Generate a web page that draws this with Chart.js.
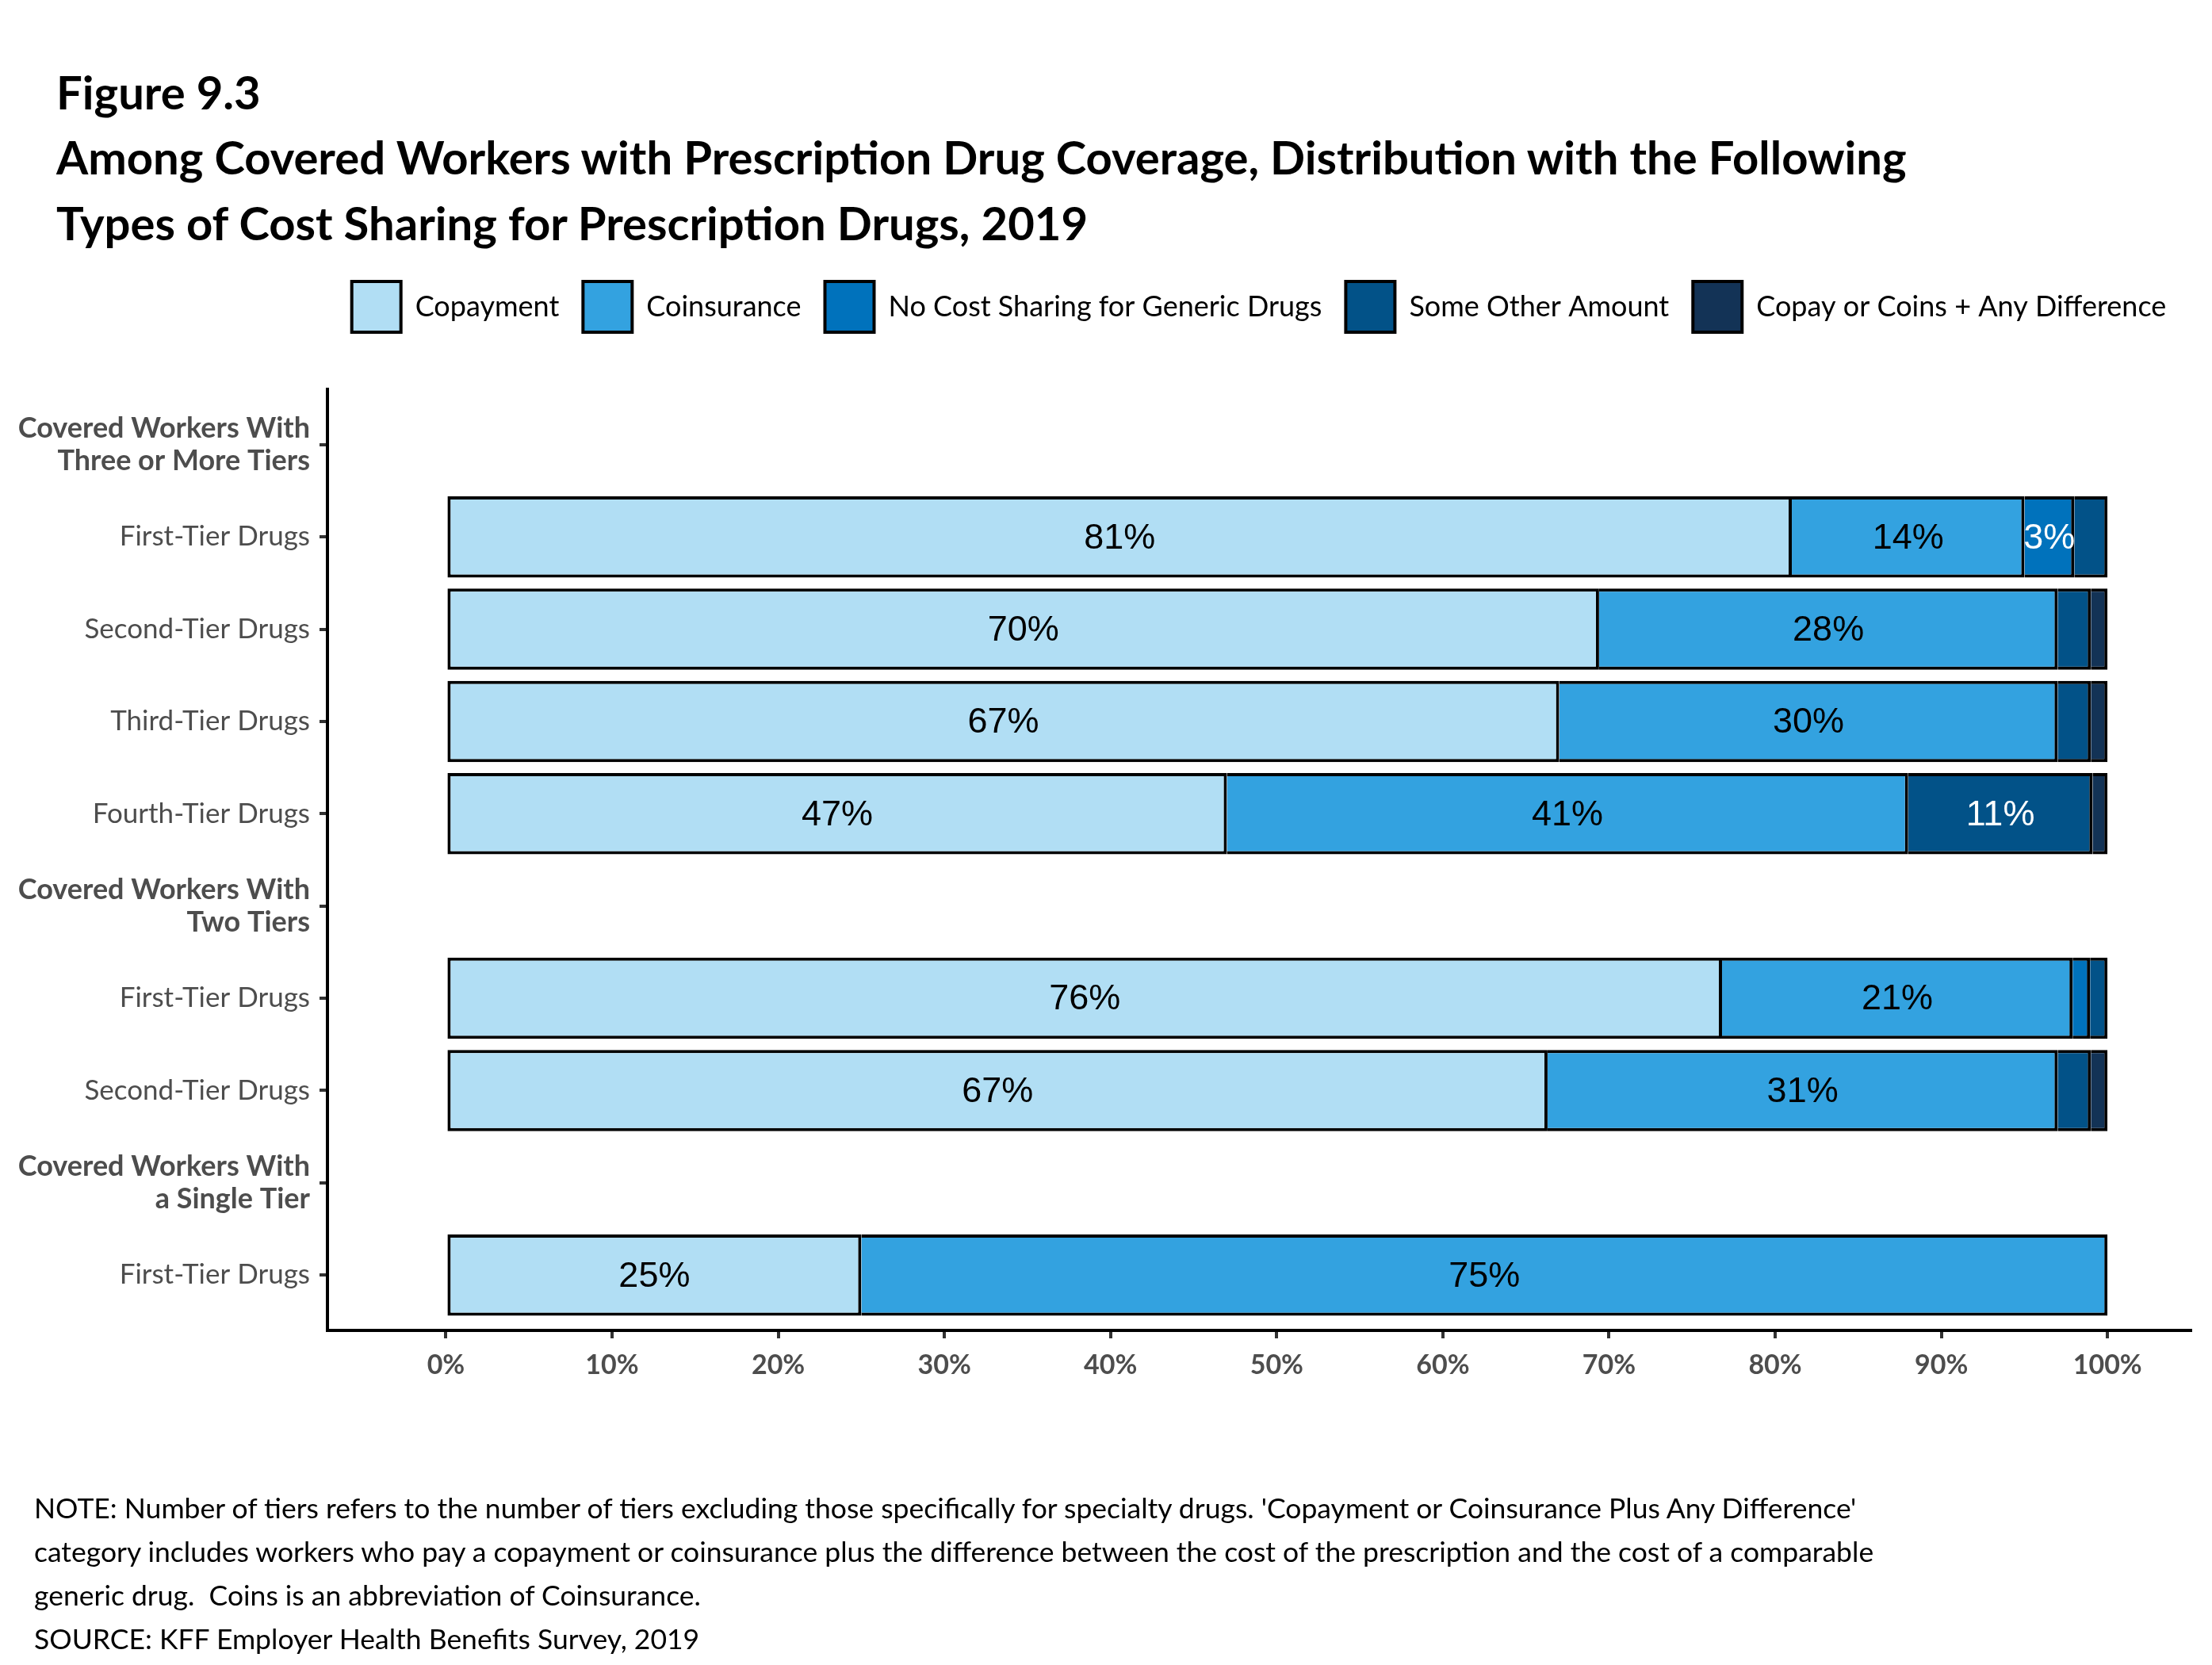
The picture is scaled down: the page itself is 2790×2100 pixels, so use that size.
<!DOCTYPE html>
<html>
<head>
<meta charset="utf-8">
<script src="https://cdn.jsdelivr.net/npm/chart.js@4.4.1/dist/chart.umd.min.js"></script>
<style>
  html, body { margin: 0; padding: 0; background: #fff; }
  body { width: 2790px; height: 2100px; position: relative; overflow: hidden; }
  #chart { position: absolute; left: 0; top: 0; }
  .title { position: absolute; left: 71px; font-family: Lato, sans-serif; font-weight: 700; font-size: 58px; line-height: 1; color: #000; white-space: nowrap; }
  .notes { position: absolute; left: 43px; top: 1874px; font-family: Lato, sans-serif; font-size: 35.5px; line-height: 55px; color: #000; white-space: pre; }
</style>
</head>
<body>
<div class="title" style="top:87px">Figure 9.3</div>
<div class="title" style="top:169px">Among Covered Workers with Prescription Drug Coverage, Distribution with the Following</div>
<div class="title" style="top:252px">Types of Cost Sharing for Prescription Drugs, 2019</div>
<canvas id="chart" width="2790" height="2100"></canvas>
<div class="notes">NOTE: Number of tiers refers to the number of tiers excluding those specifically for specialty drugs. 'Copayment or Coinsurance Plus Any Difference'
category includes workers who pay a copayment or coinsurance plus the difference between the cost of the prescription and the cost of a comparable
generic drug.  Coins is an abbreviation of Coinsurance.
SOURCE: KFF Employer Health Benefits Survey, 2019</div>
<script>
// Rows from top to bottom (headers have no bars)
const rowLabels = [
    ['Covered Workers With', 'Three or More Tiers'],
    'First-Tier Drugs',
    'Second-Tier Drugs',
    'Third-Tier Drugs',
    'Fourth-Tier Drugs',
    ['Covered Workers With', 'Two Tiers'],
    'First-Tier Drugs',
    'Second-Tier Drugs',
    ['Covered Workers With', 'a Single Tier'],
    'First-Tier Drugs'
];
const headerRows = [0, 5, 8];

const seriesNames = ['Copayment', 'Coinsurance', 'No Cost Sharing for Generic Drugs', 'Some Other Amount', 'Copay or Coins + Any Difference'];
const seriesColors = ['#b1def4', '#33a2e0', '#0072bc', '#025288', '#133356'];
const labelColors = ['#000', '#000', '#fff', '#fff', '#fff'];

// values (percent), null = no segment
const copay  = [null, 81, 69.4, 67, 47, null, 76.8, 66.3, null, 25];
const coins  = [null, 14, 27.6, 30, 41, null, 21.1, 30.7, null, 75];
const noCost = [null, 3, null, null, null, null, 1.05, null, null, null];
const other  = [null, 2, 2, 2, 11.1, null, 1.05, 2, null, null];
const diff   = [null, null, 1, 1, 0.9, null, null, 1, null, null];

// printed labels
const copayLbl  = ['', '81%', '70%', '67%', '47%', '', '76%', '67%', '', '25%'];
const coinsLbl  = ['', '14%', '28%', '30%', '41%', '', '21%', '31%', '', '75%'];
const noCostLbl = ['', '3%', '', '', '', '', '', '', '', ''];
const otherLbl  = ['', '', '', '', '11%', '', '', '', '', ''];
const diffLbl   = ['', '', '', '', '', '', '', '', '', ''];

const xTicks = [0, 10, 20, 30, 40, 50, 60, 70, 80, 90, 100];

const seriesValues = [copay, coins, noCost, other, diff];
const seriesLabels = [copayLbl, coinsLbl, noCostLbl, otherLbl, diffLbl];

const datasets = seriesValues.map((vals, k) => ({
    label: seriesNames[k],
    data: vals.map((v, i) => ({ x: v, y: i })).filter(d => d.x !== null),
    backgroundColor: seriesColors[k],
    borderColor: '#000',
    borderWidth: 4,
    borderSkipped: k === 0 ? false : 'start',
    categoryPercentage: 1,
    barPercentage: 0.88
}));

const segmentLabels = {
    id: 'segmentLabels',
    afterDatasetsDraw(chart) {
        const ctx = chart.ctx;
        ctx.save();
        ctx.font = '45px "Liberation Sans", Arial, sans-serif';
        ctx.textAlign = 'center';
        ctx.textBaseline = 'middle';
        chart.data.datasets.forEach((ds, k) => {
            const meta = chart.getDatasetMeta(k);
            meta.data.forEach((el, j) => {
                const text = seriesLabels[k][ds.data[j].y];
                if (!text) return;
                ctx.fillStyle = labelColors[k];
                ctx.fillText(text, (el.x + el.base) / 2, el.y + 2);
            });
        });
        ctx.restore();
    }
};

// put the legend over the plot area, like the original
const legendPlace = {
    id: 'legendPlace',
    afterLayout(chart) {
        const lg = chart.legend;
        const h = lg.height;
        lg.left = chart.chartArea.left;
        lg.right = chart.chartArea.right;
        lg.top = 325;
        lg.bottom = 325 + h;
    }
};

new Chart(document.getElementById('chart'), {
    type: 'bar',
    data: { labels: rowLabels, datasets: datasets },
    options: {
        indexAxis: 'y',
        responsive: false,
        animation: false,
        devicePixelRatio: 1,
        layout: { padding: { top: 387, left: 0, right: 27, bottom: 0 } },
        plugins: {
            legend: {
                position: 'top',
                labels: {
                    boxWidth: 62,
                    boxHeight: 64,
                    padding: 30,
                    color: '#000',
                    font: { family: 'Lato', size: 36 }
                }
            },
            tooltip: { enabled: false }
        },
        scales: {
            x: {
                type: 'linear',
                stacked: true,
                min: -7.13,
                max: 105,
                afterBuildTicks: s => { s.ticks = xTicks.map(v => ({ value: v })); },
                afterFit: s => { s.height = 422; },
                border: { display: true, color: '#000', width: 4 },
                grid: { drawOnChartArea: false, drawTicks: true, tickLength: 10, color: '#333', lineWidth: 4 },
                ticks: {
                    padding: 14,
                    color: '#4d4d4d',
                    font: { family: 'Lato', size: 34, weight: 'bold' },
                    callback: v => v + '%'
                }
            },
            y: {
                type: 'linear',
                stacked: true,
                reverse: true,
                offset: false,
                min: -0.6,
                max: 9.6,
                afterBuildTicks: s => { s.ticks = rowLabels.map((_, i) => ({ value: i })); },
                afterFit: s => { s.width = 413; },
                border: { display: true, color: '#000', width: 4 },
                grid: { offset: false, drawOnChartArea: false, drawTicks: true, tickLength: 10, color: '#333', lineWidth: 4 },
                ticks: {
                    padding: 12,
                    color: '#4d4d4d',
                    font: c => headerRows.includes(c.index)
                        ? { family: 'Lato', size: 36, weight: 'bold', lineHeight: 1.15 }
                        : { family: 'Lato', size: 35, lineHeight: 1.15 },
                    callback: v => rowLabels[v]
                }
            }
        }
    },
    plugins: [segmentLabels, legendPlace]
});
</script>
</body>
</html>
